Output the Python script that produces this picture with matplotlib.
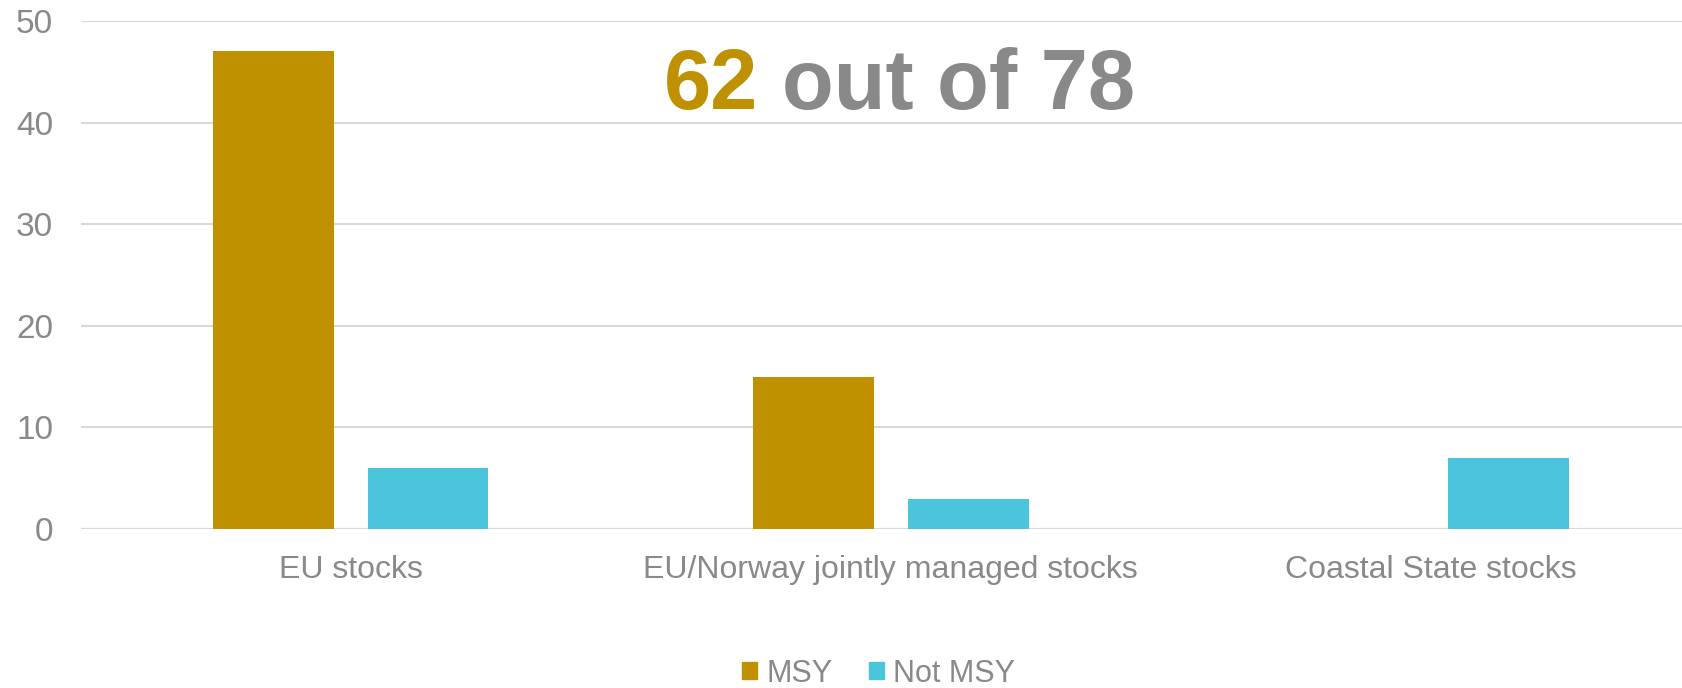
import numpy as np
import matplotlib.pyplot as plt
from matplotlib.patches import Patch

plt.rcParams['font.family'] = ['Liberation Sans', 'DejaVu Sans']

categories = ['EU stocks', 'EU/Norway jointly managed stocks', 'Coastal State stocks']
msy = [47, 15, 0]
not_msy = [6, 3, 7]
yticks = [0, 10, 20, 30, 40, 50]

GOLD = '#BF9000'
CYAN = '#4BC5DC'
GRAY = '#898989'
GRID = '#D9D9D9'

fig = plt.figure(figsize=(16.83, 6.88), dpi=100)
# plot area runs a little past the right edge of the figure, like the original
ax = fig.add_axes([0.048, 0.2311, 0.9626, 0.7384])

x = np.arange(len(categories))
w = 0.224
ax.bar(x - 0.143, msy, width=w, color=GOLD, zorder=3)
ax.bar(x + 0.143, not_msy, width=w, color=CYAN, zorder=3)

ax.set_xlim(-0.5, 2.5)
ax.set_ylim(0, 50)
ax.set_yticks(yticks)
ax.yaxis.grid(True, color=GRID, linewidth=1.5, zorder=0)
ax.set_xticks(x)
ax.set_xticklabels(categories)
ax.tick_params(axis='both', length=0, labelsize=24, colors=GRAY)
ax.tick_params(axis='x', labelsize=23)
ax.tick_params(axis='y', pad=20)
ax.tick_params(axis='x', pad=19)
for s in ax.spines.values():
    s.set_visible(False)
ax.axhline(0, color=GRID, linewidth=1.5, zorder=2)

# headline annotation
t = fig.text(0.3945, 0.874, '62', color=GOLD, fontsize=61, fontweight='bold',
             ha='left', va='center')
ax.annotate('out of 78', xy=(1, 0.5), xycoords=t, xytext=(17, 0),
            textcoords='offset points', color=GRAY, fontsize=61,
            fontweight='bold', ha='left', va='center')

handles = [Patch(color=GOLD, label='MSY'), Patch(color=CYAN, label='Not MSY')]
fig.legend(handles=handles, loc='center', bbox_to_anchor=(0.522, 0.021), ncol=2,
           frameon=False, fontsize=22, labelcolor=GRAY, handlelength=0.5,
           handleheight=0.5, handletextpad=0.3, columnspacing=1.2)

fig.savefig('out.png', dpi=100)
